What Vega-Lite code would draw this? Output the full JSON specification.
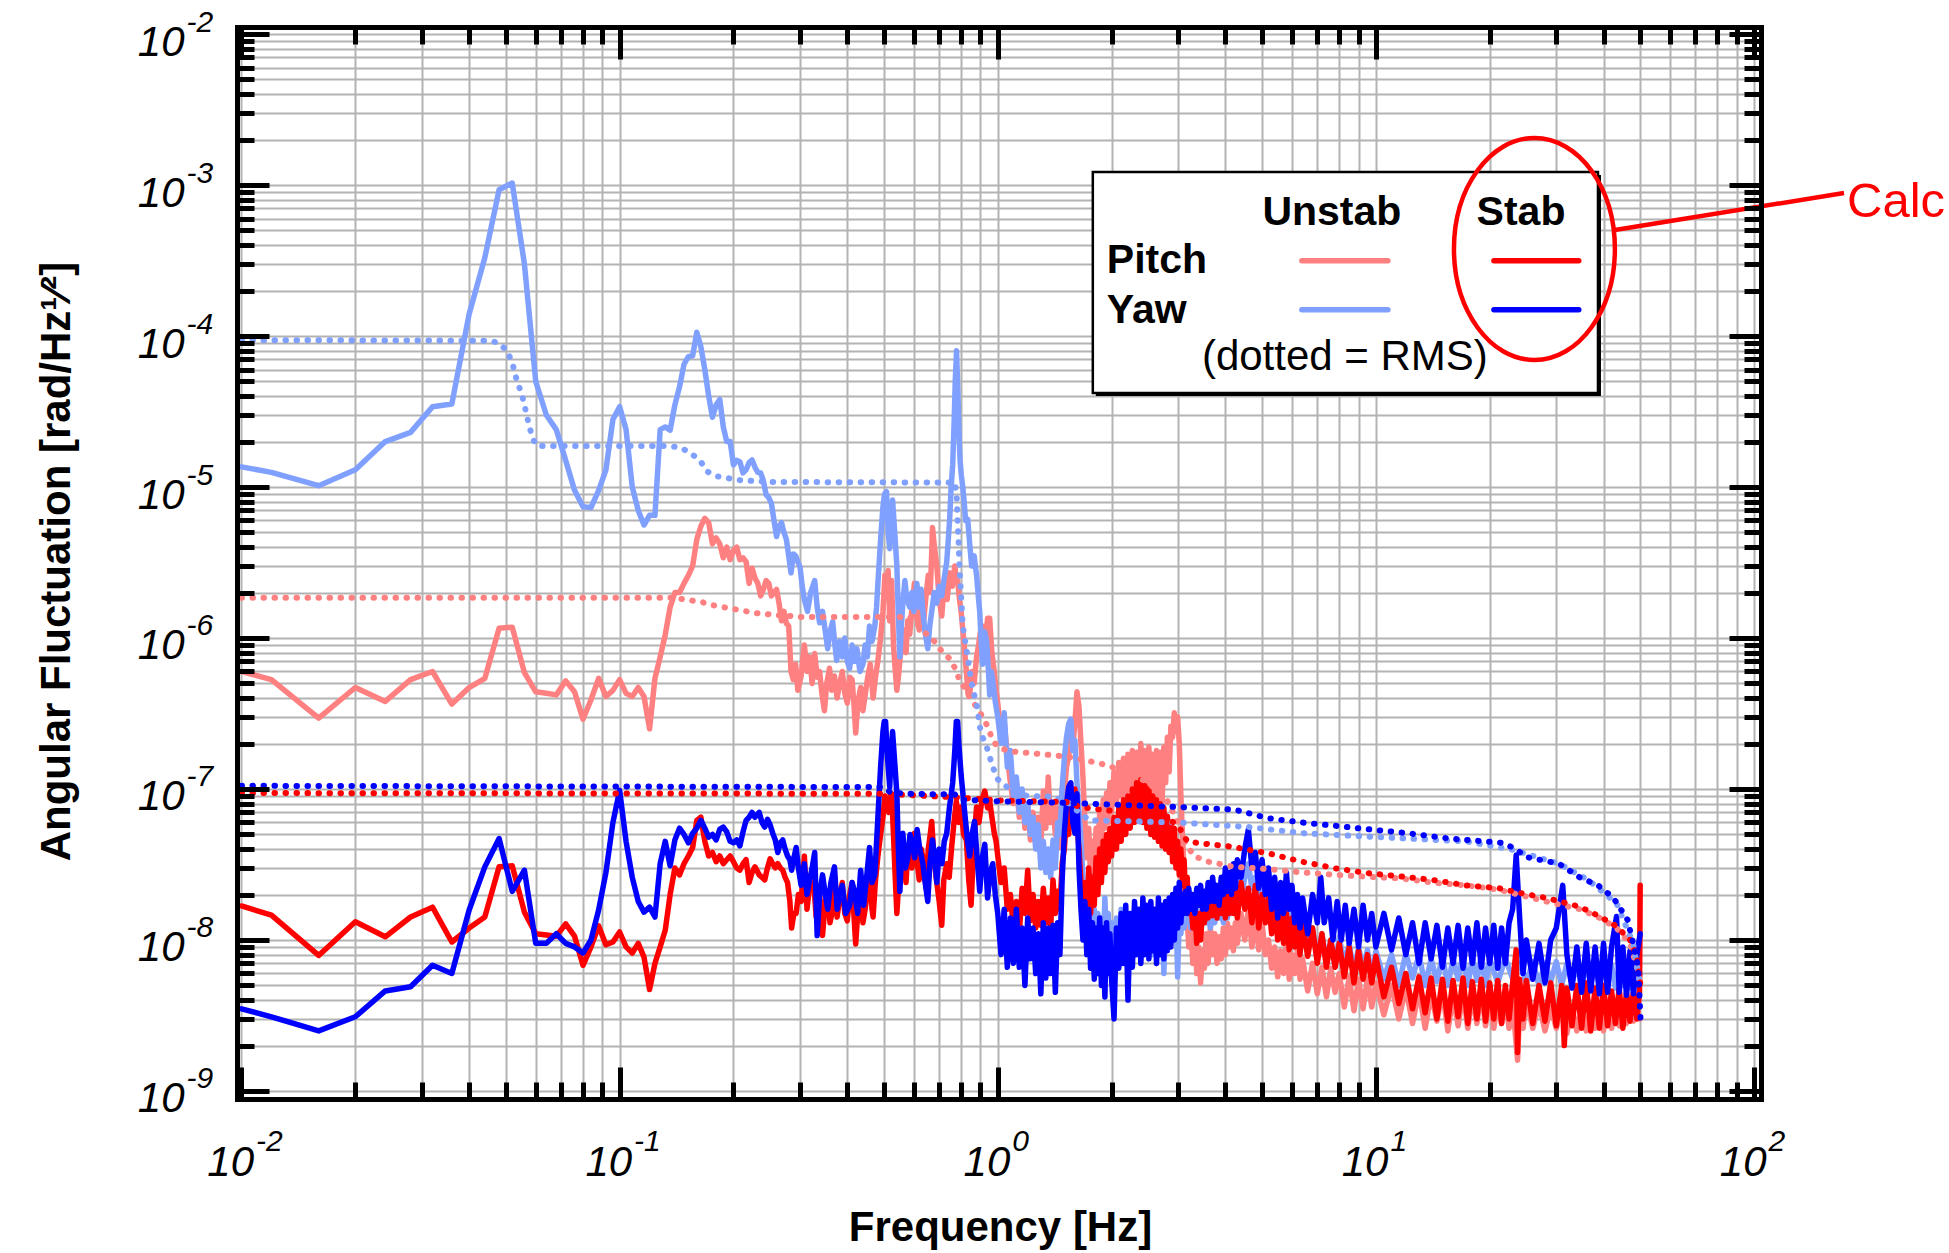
{
"$schema":"https://vega.github.io/schema/vega-lite/v6.json",
"width":1524,"height":1072,
"autosize":{"type":"none"},
"padding":{"left":237,"top":27,"right":188,"bottom":154},
"background":"white",
"config":{"view":{"stroke":null},
"axis":{"labelFont":"Liberation Sans","titleFont":"Liberation Sans","labelColor":"black","titleColor":"black","labelFlush":false,"labelOverlap":false,"labelBound":false,"gridColor":"#b3b3b3","gridWidth":2,"gridOpacity":1,"tickColor":"black","tickWidth":5,"tickCap":"butt","domainColor":"black","domainWidth":5,"domainCap":"square"}},
"datasets":{
"pu":[{"f":0.01,"v":6e-7},{"f":0.012,"v":5.3e-7},{"f":0.016,"v":2.95e-7},{"f":0.02,"v":4.7e-7},{"f":0.024,"v":3.8e-7},{"f":0.028,"v":5.3e-7},{"f":0.032,"v":6e-7},{"f":0.036,"v":3.65e-7},{"f":0.04,"v":4.7e-7},{"f":0.044,"v":5.4e-7},{"f":0.048,"v":1.16e-6},{"f":0.052,"v":1.18e-6},{"f":0.056,"v":5.9e-7},{"f":0.06,"v":4.4e-7},{"f":0.064,"v":4.3e-7},{"f":0.068,"v":4.2e-7},{"f":0.072,"v":5.2e-7},{"f":0.076,"v":4.4e-7},{"f":0.08,"v":2.9e-7},{"f":0.084,"v":3.9e-7},{"f":0.088,"v":5.4e-7},{"f":0.092,"v":4.1e-7},{"f":0.096,"v":4.5e-7},{"f":0.1,"v":5.3e-7},{"f":0.104,"v":4.3e-7},{"f":0.108,"v":4.1e-7},{"f":0.112,"v":4.7e-7},{"f":0.116,"v":4.1e-7},{"f":0.12,"v":2.5e-7},{"f":0.124,"v":5.4e-7},{"f":0.128,"v":7.5e-7},{"f":0.132,"v":1.05e-6},{"f":0.136,"v":1.6e-6},{"f":0.14,"v":2e-6},{"f":0.144,"v":2e-6},{"f":0.148,"v":2.3e-6},{"f":0.152,"v":2.6e-6},{"f":0.156,"v":3e-6},{"f":0.16,"v":4.5e-6},{"f":0.164,"v":5.5e-6},{"f":0.168,"v":6.2e-6},{"f":0.172,"v":5.8e-6},{"f":0.176,"v":4.2e-6},{"f":0.18,"v":4.6e-6},{"f":0.184,"v":4.2e-6},{"f":0.188,"v":3.4e-6},{"f":0.192,"v":4e-6},{"f":0.196,"v":3.3e-6},{"f":0.2,"v":3.8e-6},{"f":0.204,"v":4e-6},{"f":0.208,"v":3.3e-6},{"f":0.212,"v":3.4e-6},{"f":0.216,"v":3.2e-6},{"f":0.22,"v":2.3e-6},{"f":0.224,"v":2.9e-6},{"f":0.228,"v":2.5e-6},{"f":0.232,"v":2.3e-6},{"f":0.236,"v":1.9e-6},{"f":0.24,"v":2.1e-6},{"f":0.244,"v":2.4e-6},{"f":0.248,"v":2.3e-6},{"f":0.252,"v":1.9e-6},{"f":0.256,"v":2e-6},{"f":0.26,"v":2.1e-6},{"f":0.264,"v":1.7e-6},{"f":0.268,"v":1.3e-6},{"f":0.272,"v":1.5e-6},{"f":0.276,"v":1.25e-6},{"f":0.28,"v":1.2e-6},{"f":0.284,"v":6e-7},{"f":0.288,"v":5.3e-7},{"f":0.292,"v":6.7e-7},{"f":0.296,"v":4.5e-7},
{"f":0.302,"v":5.6e-7},{"f":0.308,"v":9e-7},{"f":0.313,"v":6e-7},{"f":0.318,"v":7.5e-7},{"f":0.323,"v":5e-7},{"f":0.328,"v":7.9e-7},{"f":0.333,"v":5.5e-7},{"f":0.338,"v":6e-7},{"f":0.343,"v":4.2e-7},{"f":0.348,"v":3.3e-7},{"f":0.353,"v":5e-7},{"f":0.359,"v":6.3e-7},{"f":0.364,"v":4.5e-7},{"f":0.37,"v":5.6e-7},{"f":0.376,"v":4e-7},{"f":0.382,"v":5e-7},{"f":0.388,"v":6e-7},{"f":0.394,"v":4.3e-7},{"f":0.4,"v":3.7e-7},{"f":0.406,"v":5.5e-7},{"f":0.412,"v":5.3e-7},{"f":0.417,"v":3.5e-7},{"f":0.421,"v":2.35e-7},{"f":0.427,"v":3.8e-7},{"f":0.434,"v":4.7e-7},{"f":0.44,"v":3.3e-7},{"f":0.446,"v":4.2e-7},{"f":0.453,"v":5.5e-7},{"f":0.46,"v":6.7e-7},{"f":0.468,"v":4e-7},{"f":0.475,"v":5.5e-7},{"f":0.482,"v":7.1e-7},{"f":0.49,"v":1e-6},{"f":0.497,"v":1.5e-6},{"f":0.503,"v":2.6e-6},{"f":0.508,"v":1.9e-6},{"f":0.513,"v":2.8e-6},{"f":0.518,"v":1.3e-6},{"f":0.524,"v":2.4e-6},{"f":0.53,"v":9e-7},{"f":0.536,"v":6e-7},{"f":0.541,"v":4.5e-7},{"f":0.546,"v":5.5e-7},{"f":0.551,"v":7.1e-7},{"f":0.558,"v":9.5e-7},{"f":0.565,"v":1.13e-6},{"f":0.572,"v":8e-7},{"f":0.578,"v":1.3e-6},{"f":0.585,"v":1.06e-6},{"f":0.592,"v":1.5e-6},{"f":0.602,"v":2.3e-6},{"f":0.61,"v":1.4e-6},{"f":0.62,"v":1.13e-6},{"f":0.628,"v":1.7e-6},{"f":0.637,"v":1.3e-6},{"f":0.646,"v":1.9e-6},{"f":0.655,"v":2.6e-6},{"f":0.663,"v":2e-6},{"f":0.669,"v":3.7e-6},{"f":0.672,"v":5.4e-6},{"f":0.68,"v":4e-6},{"f":0.69,"v":3e-6},{"f":0.7,"v":1.8e-6},{"f":0.711,"v":1.4e-6},{"f":0.718,"v":1.9e-6},{"f":0.725,"v":2.4e-6},{"f":0.735,"v":1.8e-6},{"f":0.746,"v":2.7e-6},{"f":0.758,"v":2.2e-6},{"f":0.77,"v":3e-6},{"f":0.777,"v":2.4e-6},{"f":0.783,"v":2.4e-6},{"f":0.792,"v":1.8e-6},{"f":0.8,"v":1.5e-6},{"f":0.815,"v":9e-7},{"f":0.826,"v":6e-7},{"f":0.835,"v":4.2e-7},{"f":0.843,"v":4.2e-7},{"f":0.853,"v":6e-7},{"f":0.866,"v":5e-7},{"f":0.879,"v":7.5e-7},{"f":0.89,"v":9e-7},{"f":0.9,"v":1.1e-6},{"f":0.912,"v":1.2e-6},{"f":0.925,"v":9e-7},{"f":0.94,"v":1.35e-6},{"f":0.952,"v":1.35e-6},{"f":0.965,"v":8e-7},{"f":0.979,"v":6e-7},{"f":0.99,"v":4.5e-7},
{"f":1.0,"v":3.7e-7},{"f":1.02,"v":2.4e-7},{"f":1.04,"v":2.8e-7},{"f":1.06,"v":1.65e-7},{"f":1.08,"v":1.1e-7},{"f":1.1,"v":8e-8},{"f":1.12,"v":1.1e-7},{"f":1.14,"v":6.5e-8},{"f":1.16,"v":9.5e-8},{"f":1.18,"v":5.5e-8},{"f":1.2,"v":8e-8},{"f":1.22,"v":4.6e-8},{"f":1.24,"v":7e-8},{"f":1.26,"v":4.4e-8},{"f":1.28,"v":6.5e-8},{"f":1.3,"v":4.3e-8},{"f":1.32,"v":9.7e-8},{"f":1.34,"v":5.5e-8},{"f":1.36,"v":1.2e-7},{"f":1.38,"v":6e-8},{"f":1.4,"v":8e-8},{"f":1.42,"v":5e-8},{"f":1.44,"v":7.5e-8},{"f":1.46,"v":4.1e-8},{"f":1.48,"v":1e-7},{"f":1.5,"v":9.3e-8},{"f":1.52,"v":1.4e-7},{"f":1.54,"v":1.65e-7},{"f":1.56,"v":2.2e-7},{"f":1.58,"v":1.9e-7},{"f":1.6,"v":2.8e-7},{"f":1.62,"v":4.4e-7},{"f":1.64,"v":3.5e-7},{"f":1.66,"v":2e-7},{"f":1.68,"v":1.2e-7},{"f":1.7,"v":6e-8},{"f":1.72,"v":3.5e-8},{"f":1.74,"v":5.5e-8},{"f":1.76,"v":2.6e-8},{"f":1.78,"v":4.5e-8},{"f":1.8,"v":3e-8},{"f":1.82,"v":5.5e-8},{"f":1.84,"v":4e-8},{"f":1.86,"v":7e-8},{"f":1.88,"v":4.5e-8},{"f":1.9,"v":8.5e-8},{"f":1.92,"v":5.5e-8},{"f":1.94,"v":9.4e-8},{"f":1.96,"v":6e-8},{"f":1.98,"v":1.1e-7},{"f":2.0,"v":7e-8},{"f":2.03,"v":1.3e-7},{"f":2.06,"v":8e-8},{"f":2.09,"v":1.5e-7},{"f":2.12,"v":9e-8},{"f":2.15,"v":1.6e-7},{"f":2.18,"v":8.5e-8},{"f":2.21,"v":1.7e-7},{"f":2.24,"v":1e-7},{"f":2.27,"v":1.8e-7},{"f":2.3,"v":9.5e-8},{"f":2.33,"v":1.75e-7},{"f":2.36,"v":1.05e-7},{"f":2.39,"v":2e-7},{"f":2.42,"v":1.1e-7},{"f":2.45,"v":1.8e-7},{"f":2.48,"v":1e-7},{"f":2.51,"v":1.9e-7},{"f":2.54,"v":9e-8},{"f":2.57,"v":1.7e-7},{"f":2.6,"v":8.5e-8},{"f":2.63,"v":1.8e-7},{"f":2.66,"v":9e-8},{"f":2.69,"v":1.75e-7},{"f":2.72,"v":8e-8},{"f":2.75,"v":1.9e-7},{"f":2.78,"v":1.1e-7},{"f":2.81,"v":2.2e-7},{"f":2.84,"v":1.3e-7},{"f":2.87,"v":2.6e-7},{"f":2.9,"v":2.2e-7},{"f":2.93,"v":3.2e-7},{"f":2.96,"v":2.4e-7},{"f":2.99,"v":3e-7},{"f":3.02,"v":2e-7},{"f":3.05,"v":9e-8},{"f":3.08,"v":5e-8},{"f":3.11,"v":2.8e-8},{"f":3.14,"v":1.8e-8},{"f":3.17,"v":1.4e-8},{"f":3.2,"v":9e-9},{"f":3.24,"v":1.2e-8},{"f":3.28,"v":7e-9},{"f":3.32,"v":1.1e-8},{"f":3.36,"v":6e-9},{"f":3.4,"v":9e-9},{"f":3.44,"v":5.2e-9},{"f":3.48,"v":8.5e-9},{"f":3.52,"v":6.5e-9},{"f":3.56,"v":1.1e-8},{"f":3.6,"v":7e-9},{"f":3.65,"v":1.2e-8},{"f":3.7,"v":8e-9},{"f":3.75,"v":1.1e-8},{"f":3.8,"v":7e-9},{"f":3.85,"v":1.05e-8},{"f":3.9,"v":7.5e-9},{"f":3.95,"v":1.2e-8},{"f":4.0,"v":8e-9},{"f":4.05,"v":1.29e-8},{"f":4.1,"v":9e-9},{"f":4.15,"v":1.2e-8},{"f":4.2,"v":8.5e-9},{"f":4.25,"v":1.3e-8},{"f":4.3,"v":9.5e-9},{"f":4.4,"v":1.5e-8},{"f":4.5,"v":1e-8},{"f":4.6,"v":1.6e-8},{"f":4.7,"v":9e-9},{"f":4.8,"v":1.4e-8},{"f":4.9,"v":8.6e-9},{"f":5.0,"v":1.3e-8},{"f":5.1,"v":8e-9},{"f":5.2,"v":1e-8},{"f":5.3,"v":6.5e-9},{"f":5.4,"v":9e-9},{"f":5.5,"v":5.7e-9},{"f":5.6,"v":8.5e-9},{"f":5.7,"v":6e-9},{"f":5.8,"v":9.5e-9},{"f":5.9,"v":5.5e-9},{"f":6.0,"v":8e-9},{"f":6.1,"v":6e-9},{"f":6.2,"v":8.5e-9},{"f":6.3,"v":5.5e-9},{"f":6.4,"v":7.5e-9},{"f":6.6,"v":4.6e-9},{"f":6.8,"v":7e-9},{"f":7.0,"v":4.4e-9},{"f":7.2,"v":6.6e-9},{"f":7.4,"v":4.2e-9},{"f":7.6,"v":6.5e-9},{"f":7.8,"v":4.5e-9},{"f":8.0,"v":6e-9},{"f":8.25,"v":3.6e-9},{"f":8.5,"v":5.7e-9},{"f":8.75,"v":3.4e-9},{"f":9.0,"v":5.5e-9},{"f":9.25,"v":3.5e-9},{"f":9.5,"v":5.6e-9},{"f":9.75,"v":3.6e-9},{"f":10,"v":5.2e-9},{"f":10.5,"v":3.2e-9},{"f":11,"v":5e-9},{"f":11.5,"v":3e-9},{"f":12,"v":4.8e-9},{"f":12.5,"v":2.8e-9},{"f":13,"v":4.6e-9},{"f":13.5,"v":2.6e-9},{"f":14,"v":4.4e-9},{"f":14.5,"v":2.9e-9},{"f":15,"v":4.6e-9},{"f":15.5,"v":2.5e-9},{"f":16,"v":4.2e-9},{"f":16.5,"v":2.7e-9},{"f":17,"v":4.5e-9},{"f":17.5,"v":2.6e-9},{"f":18,"v":4.3e-9},{"f":18.5,"v":2.8e-9},{"f":19,"v":4.6e-9},{"f":19.5,"v":2.7e-9},{"f":20,"v":4.4e-9},{"f":20.5,"v":2.6e-9},{"f":21,"v":4e-9},{"f":21.5,"v":2.8e-9},{"f":22,"v":4.2e-9},{"f":22.5,"v":2.6e-9},{"f":23,"v":3.8e-9},{"f":23.7,"v":1.6e-9},{"f":24,"v":3.6e-9},{"f":24.5,"v":2.6e-9},{"f":25,"v":4e-9},{"f":26,"v":2.6e-9},{"f":27,"v":3.8e-9},{"f":28,"v":2.5e-9},{"f":29,"v":3.6e-9},{"f":30,"v":2.6e-9},{"f":31,"v":3.8e-9},{"f":32,"v":2.4e-9},{"f":33,"v":3.6e-9},{"f":34,"v":2.5e-9},{"f":35,"v":3.5e-9},{"f":36,"v":2.5e-9},{"f":37,"v":3.6e-9},{"f":38,"v":2.6e-9},{"f":39,"v":3.5e-9},{"f":40,"v":2.5e-9},{"f":41,"v":3.6e-9},{"f":42,"v":2.6e-9},{"f":43,"v":3.4e-9},{"f":44,"v":2.7e-9},{"f":45,"v":3.5e-9},{"f":46,"v":2.8e-9},{"f":47,"v":3.6e-9},{"f":48,"v":2.9e-9},{"f":49,"v":3.5e-9},{"f":50,"v":3e-9}],
"yu":[{"f":0.01,"v":1.36e-5},{"f":0.012,"v":1.25e-5},{"f":0.016,"v":1.02e-5},{"f":0.02,"v":1.3e-5},{"f":0.024,"v":2e-5},{"f":0.028,"v":2.3e-5},{"f":0.032,"v":3.4e-5},{"f":0.036,"v":3.55e-5},{"f":0.04,"v":1.4e-4},{"f":0.044,"v":3.3e-4},{"f":0.048,"v":9.3e-4},{"f":0.052,"v":1.03e-3},{"f":0.056,"v":3e-4},{"f":0.06,"v":5e-5},{"f":0.064,"v":3e-5},{"f":0.068,"v":2.4e-5},{"f":0.072,"v":1.5e-5},{"f":0.076,"v":9.5e-6},{"f":0.08,"v":7.4e-6},{"f":0.084,"v":7.3e-6},{"f":0.088,"v":9.5e-6},{"f":0.092,"v":1.3e-5},{"f":0.096,"v":2.8e-5},{"f":0.1,"v":3.4e-5},{"f":0.104,"v":2.4e-5},{"f":0.108,"v":1e-5},{"f":0.112,"v":7e-6},{"f":0.116,"v":5.6e-6},{"f":0.12,"v":6.5e-6},{"f":0.124,"v":6.5e-6},{"f":0.128,"v":2.4e-5},{"f":0.132,"v":2.5e-5},{"f":0.136,"v":2.38e-5},{"f":0.14,"v":3.5e-5},{"f":0.144,"v":4.6e-5},{"f":0.148,"v":6.5e-5},{"f":0.152,"v":7.3e-5},{"f":0.156,"v":7.4e-5},{"f":0.16,"v":1.06e-4},{"f":0.164,"v":8.5e-5},{"f":0.168,"v":6e-5},{"f":0.172,"v":4e-5},{"f":0.176,"v":2.9e-5},{"f":0.18,"v":3.5e-5},{"f":0.184,"v":3.8e-5},{"f":0.188,"v":2.5e-5},{"f":0.192,"v":2e-5},{"f":0.196,"v":2e-5},{"f":0.2,"v":1.4e-5},{"f":0.204,"v":1.5e-5},{"f":0.208,"v":1.47e-5},{"f":0.212,"v":1.24e-5},{"f":0.216,"v":1.3e-5},{"f":0.22,"v":1.45e-5},{"f":0.224,"v":1.51e-5},{"f":0.228,"v":1.35e-5},{"f":0.232,"v":1.25e-5},{"f":0.236,"v":1.24e-5},{"f":0.24,"v":1.1e-5},{"f":0.244,"v":8.9e-6},{"f":0.248,"v":8.5e-6},{"f":0.252,"v":7.8e-6},{"f":0.256,"v":6e-6},{"f":0.26,"v":4.7e-6},{"f":0.264,"v":5.5e-6},{"f":0.268,"v":5.8e-6},{"f":0.272,"v":5e-6},{"f":0.276,"v":4.5e-6},{"f":0.28,"v":3.5e-6},{"f":0.284,"v":2.7e-6},{"f":0.288,"v":3.6e-6},{"f":0.292,"v":3.5e-6},{"f":0.296,"v":3.2e-6},
{"f":0.3,"v":2.95e-6},{"f":0.304,"v":2.2e-6},{"f":0.308,"v":1.8e-6},{"f":0.314,"v":1.5e-6},{"f":0.32,"v":2e-6},{"f":0.328,"v":2.4e-6},{"f":0.333,"v":1.6e-6},{"f":0.338,"v":1.26e-6},{"f":0.344,"v":1.5e-6},{"f":0.35,"v":1.1e-6},{"f":0.355,"v":8.5e-7},{"f":0.36,"v":1.1e-6},{"f":0.366,"v":1.28e-6},{"f":0.371,"v":9e-7},{"f":0.375,"v":7.1e-7},{"f":0.382,"v":9.5e-7},{"f":0.388,"v":7.5e-7},{"f":0.394,"v":1e-6},{"f":0.4,"v":7e-7},{"f":0.406,"v":6.3e-7},{"f":0.412,"v":9e-7},{"f":0.418,"v":7e-7},{"f":0.424,"v":8.5e-7},{"f":0.432,"v":6e-7},{"f":0.44,"v":6.7e-7},{"f":0.446,"v":9e-7},{"f":0.452,"v":7.5e-7},{"f":0.458,"v":1.2e-6},{"f":0.465,"v":9.5e-7},{"f":0.473,"v":1.2e-6},{"f":0.478,"v":1.6e-6},{"f":0.482,"v":2.3e-6},{"f":0.49,"v":4.5e-6},{"f":0.497,"v":7.4e-6},{"f":0.502,"v":9e-6},{"f":0.508,"v":9.3e-6},{"f":0.513,"v":5e-6},{"f":0.518,"v":3.9e-6},{"f":0.523,"v":7e-6},{"f":0.527,"v":8.2e-6},{"f":0.534,"v":5e-6},{"f":0.541,"v":3e-6},{"f":0.546,"v":1.4e-6},{"f":0.551,"v":7.5e-7},{"f":0.556,"v":1.2e-6},{"f":0.561,"v":1.7e-6},{"f":0.568,"v":2.4e-6},{"f":0.575,"v":1.8e-6},{"f":0.585,"v":1.6e-6},{"f":0.593,"v":2e-6},{"f":0.6,"v":1.5e-6},{"f":0.611,"v":2.3e-6},{"f":0.62,"v":1.6e-6},{"f":0.627,"v":2.1e-6},{"f":0.634,"v":1.5e-6},{"f":0.642,"v":1.1e-6},{"f":0.653,"v":8.5e-7},{"f":0.661,"v":1.2e-6},{"f":0.669,"v":1.5e-6},{"f":0.679,"v":2e-6},{"f":0.69,"v":1.7e-6},{"f":0.7,"v":2.2e-6},{"f":0.711,"v":1.9e-6},{"f":0.722,"v":2.5e-6},{"f":0.733,"v":3.2e-6},{"f":0.74,"v":4.5e-6},{"f":0.746,"v":6.1e-6},{"f":0.753,"v":1e-5},{"f":0.76,"v":1.4e-5},{"f":0.766,"v":2.5e-5},{"f":0.772,"v":5e-5},{"f":0.778,"v":8e-5},{"f":0.784,"v":4.5e-5},{"f":0.79,"v":2.2e-5},{"f":0.795,"v":1.5e-5},{"f":0.801,"v":1.2e-5},{"f":0.808,"v":1e-5},{"f":0.815,"v":8e-6},{"f":0.822,"v":6e-6},{"f":0.833,"v":6.1e-6},{"f":0.843,"v":4.2e-6},{"f":0.853,"v":3e-6},{"f":0.866,"v":3.5e-6},{"f":0.879,"v":2.6e-6},{"f":0.89,"v":1.8e-6},{"f":0.896,"v":1.5e-6},{"f":0.905,"v":9e-7},{"f":0.912,"v":6.7e-7},{"f":0.923,"v":1.1e-6},{"f":0.935,"v":9.5e-7},{"f":0.945,"v":6e-7},{"f":0.952,"v":4.2e-7},{"f":0.962,"v":6e-7},{"f":0.97,"v":5.3e-7},{"f":0.985,"v":3.8e-7},
{"f":1.0,"v":3e-7},{"f":1.02,"v":2e-7},{"f":1.04,"v":3.2e-7},{"f":1.06,"v":1.4e-7},{"f":1.08,"v":1.8e-7},{"f":1.1,"v":9e-8},{"f":1.12,"v":1.2e-7},{"f":1.14,"v":7e-8},{"f":1.16,"v":1e-7},{"f":1.18,"v":6e-8},{"f":1.2,"v":8e-8},{"f":1.22,"v":5e-8},{"f":1.24,"v":6.5e-8},{"f":1.26,"v":4e-8},{"f":1.28,"v":5.8e-8},{"f":1.3,"v":3e-8},{"f":1.32,"v":4.5e-8},{"f":1.34,"v":2.8e-8},{"f":1.36,"v":4e-8},{"f":1.38,"v":2.6e-8},{"f":1.4,"v":4.6e-8},{"f":1.42,"v":3e-8},{"f":1.44,"v":6e-8},{"f":1.46,"v":5e-8},{"f":1.48,"v":1e-7},{"f":1.5,"v":1.6e-7},{"f":1.52,"v":2.2e-7},{"f":1.54,"v":2.7e-7},{"f":1.56,"v":2.9e-7},{"f":1.58,"v":1.8e-7},{"f":1.6,"v":2.1e-7},{"f":1.62,"v":1.1e-7},{"f":1.64,"v":7e-8},{"f":1.66,"v":4.5e-8},{"f":1.68,"v":2.6e-8},{"f":1.7,"v":1.5e-8},{"f":1.72,"v":2.2e-8},{"f":1.74,"v":1.1e-8},{"f":1.76,"v":1.8e-8},{"f":1.78,"v":9e-9},{"f":1.8,"v":1.6e-8},{"f":1.82,"v":8.6e-9},{"f":1.84,"v":1.5e-8},{"f":1.86,"v":7e-9},{"f":1.88,"v":1.4e-8},{"f":1.9,"v":8e-9},{"f":1.92,"v":1.9e-8},{"f":1.94,"v":9e-9},{"f":1.96,"v":1.5e-8},{"f":1.98,"v":7.5e-9},{"f":2.0,"v":1.3e-8},{"f":2.03,"v":6.5e-9},{"f":2.06,"v":1.4e-8},{"f":2.09,"v":8e-9},{"f":2.12,"v":1.6e-8},{"f":2.15,"v":8.5e-9},{"f":2.18,"v":1.5e-8},{"f":2.21,"v":7e-9},{"f":2.24,"v":1.3e-8},{"f":2.27,"v":8e-9},{"f":2.3,"v":1.6e-8},{"f":2.33,"v":9e-9},{"f":2.36,"v":1.5e-8},{"f":2.39,"v":7.5e-9},{"f":2.42,"v":1.4e-8},{"f":2.45,"v":8.5e-9},{"f":2.48,"v":1.6e-8},{"f":2.51,"v":9e-9},{"f":2.54,"v":1.5e-8},{"f":2.57,"v":8e-9},{"f":2.6,"v":1.4e-8},{"f":2.63,"v":9e-9},{"f":2.66,"v":1.6e-8},{"f":2.69,"v":8e-9},{"f":2.72,"v":1.5e-8},{"f":2.75,"v":6e-9},{"f":2.78,"v":1.4e-8},{"f":2.81,"v":9e-9},{"f":2.84,"v":1.7e-8},{"f":2.87,"v":1e-8},{"f":2.9,"v":1.9e-8},{"f":2.93,"v":1.2e-8},{"f":2.96,"v":1.7e-8},{"f":2.99,"v":5.7e-9},{"f":3.02,"v":1.4e-8},{"f":3.05,"v":1.1e-8},{"f":3.08,"v":1.6e-8},{"f":3.11,"v":1.2e-8},{"f":3.14,"v":1.7e-8},{"f":3.17,"v":1.3e-8},{"f":3.2,"v":1.6e-8},{"f":3.24,"v":1.2e-8},{"f":3.28,"v":1.5e-8},{"f":3.32,"v":1.3e-8},{"f":3.36,"v":1.6e-8},{"f":3.4,"v":1.2e-8},{"f":3.44,"v":1.5e-8},{"f":3.48,"v":1.3e-8},{"f":3.52,"v":1.7e-8},{"f":3.56,"v":1.3e-8},{"f":3.6,"v":1.6e-8},{"f":3.65,"v":1.2e-8},{"f":3.7,"v":1.5e-8},{"f":3.75,"v":1.3e-8},{"f":3.8,"v":1.7e-8},{"f":3.85,"v":1.4e-8},{"f":3.9,"v":1.8e-8},{"f":3.95,"v":1.3e-8},{"f":4.0,"v":1.7e-8},{"f":4.05,"v":1.4e-8},{"f":4.1,"v":1.9e-8},{"f":4.15,"v":1.5e-8},{"f":4.2,"v":2e-8},{"f":4.25,"v":1.6e-8},{"f":4.3,"v":2.2e-8},{"f":4.4,"v":1.8e-8},{"f":4.5,"v":2.6e-8},{"f":4.6,"v":3.2e-8},{"f":4.7,"v":2.2e-8},{"f":4.8,"v":2.6e-8},{"f":4.9,"v":1.7e-8},{"f":5.0,"v":2.2e-8},{"f":5.1,"v":1.5e-8},{"f":5.2,"v":2e-8},{"f":5.3,"v":1.2e-8},{"f":5.4,"v":1.7e-8},{"f":5.5,"v":1.1e-8},{"f":5.6,"v":1.8e-8},{"f":5.7,"v":1.2e-8},{"f":5.8,"v":1.6e-8},{"f":5.9,"v":1e-8},{"f":6.0,"v":1.5e-8},{"f":6.1,"v":9.5e-9},{"f":6.2,"v":1.4e-8},{"f":6.3,"v":8.6e-9},{"f":6.4,"v":1.3e-8},{"f":6.6,"v":9e-9},{"f":6.8,"v":1.2e-8},{"f":7.0,"v":7.5e-9},{"f":7.2,"v":1.1e-8},{"f":7.4,"v":7e-9},{"f":7.6,"v":1e-8},{"f":7.8,"v":6.6e-9},{"f":8.0,"v":1.05e-8},{"f":8.25,"v":6.8e-9},{"f":8.5,"v":9.5e-9},{"f":8.75,"v":6e-9},{"f":9.0,"v":9e-9},{"f":9.25,"v":6.5e-9},{"f":9.5,"v":8.6e-9},{"f":9.75,"v":5.6e-9},{"f":10,"v":8.5e-9},{"f":10.5,"v":5.5e-9},{"f":11,"v":8e-9},{"f":11.5,"v":5e-9},{"f":12,"v":8.2e-9},{"f":12.5,"v":5.6e-9},{"f":13,"v":8e-9},{"f":13.5,"v":5e-9},{"f":14,"v":7.5e-9},{"f":14.5,"v":5.3e-9},{"f":15,"v":7.8e-9},{"f":15.5,"v":5e-9},{"f":16,"v":7.5e-9},{"f":16.5,"v":5.5e-9},{"f":17,"v":8e-9},{"f":17.5,"v":5e-9},{"f":18,"v":7.6e-9},{"f":18.5,"v":5.4e-9},{"f":19,"v":7.8e-9},{"f":19.5,"v":5e-9},{"f":20,"v":7.5e-9},{"f":21,"v":5.2e-9},{"f":22,"v":7.6e-9},{"f":23,"v":5.5e-9},{"f":24,"v":7e-9},{"f":25,"v":5.2e-9},{"f":26,"v":7.2e-9},{"f":27,"v":5e-9},{"f":28,"v":7e-9},{"f":29,"v":5.3e-9},{"f":30,"v":7.2e-9},{"f":31,"v":5e-9},{"f":32,"v":7e-9},{"f":33,"v":5.2e-9},{"f":34,"v":6.8e-9},{"f":35,"v":5e-9},{"f":36,"v":7e-9},{"f":37,"v":5.2e-9},{"f":38,"v":6.6e-9},{"f":39,"v":5e-9},{"f":40,"v":7e-9},{"f":41,"v":5.2e-9},{"f":42,"v":6.8e-9},{"f":43,"v":4.8e-9},{"f":44,"v":6.6e-9},{"f":45,"v":5e-9},{"f":46,"v":6.5e-9},{"f":47,"v":4.8e-9},{"f":48,"v":6.4e-9},{"f":49,"v":5e-9},{"f":50,"v":6e-9}],
"ps":[{"f":0.01,"v":1.68e-8},{"f":0.012,"v":1.46e-8},{"f":0.016,"v":7.9e-9},{"f":0.02,"v":1.32e-8},{"f":0.024,"v":1.05e-8},{"f":0.028,"v":1.42e-8},{"f":0.032,"v":1.65e-8},{"f":0.036,"v":9.7e-9},{"f":0.04,"v":1.2e-8},{"f":0.044,"v":1.42e-8},{"f":0.048,"v":3.05e-8},{"f":0.052,"v":3.1e-8},{"f":0.056,"v":1.53e-8},{"f":0.06,"v":1.1e-8},{"f":0.064,"v":1.08e-8},{"f":0.068,"v":1.06e-8},{"f":0.072,"v":1.28e-8},{"f":0.076,"v":1.06e-8},{"f":0.08,"v":6.8e-9},{"f":0.084,"v":9e-9},{"f":0.088,"v":1.24e-8},{"f":0.092,"v":9.3e-9},{"f":0.096,"v":9.7e-9},{"f":0.1,"v":1.13e-8},{"f":0.104,"v":9e-9},{"f":0.108,"v":8.2e-9},{"f":0.112,"v":9.5e-9},{"f":0.116,"v":7.7e-9},{"f":0.12,"v":4.7e-9},{"f":0.124,"v":7e-9},{"f":0.128,"v":9e-9},{"f":0.132,"v":1.16e-8},{"f":0.136,"v":2e-8},{"f":0.14,"v":3e-8},{"f":0.144,"v":2.7e-8},{"f":0.148,"v":3.2e-8},{"f":0.152,"v":3.6e-8},{"f":0.156,"v":4.1e-8},{"f":0.16,"v":6.2e-8},{"f":0.164,"v":6.5e-8},{"f":0.168,"v":4.5e-8},{"f":0.172,"v":3.6e-8},{"f":0.176,"v":3.8e-8},{"f":0.18,"v":3.3e-8},{"f":0.184,"v":3.6e-8},{"f":0.188,"v":3.2e-8},{"f":0.192,"v":3.4e-8},{"f":0.196,"v":3.6e-8},{"f":0.2,"v":3.3e-8},{"f":0.204,"v":3e-8},{"f":0.208,"v":2.9e-8},{"f":0.212,"v":3.2e-8},{"f":0.216,"v":3.4e-8},{"f":0.22,"v":2.4e-8},{"f":0.224,"v":2.8e-8},{"f":0.228,"v":3.05e-8},{"f":0.234,"v":2.7e-8},{"f":0.238,"v":2.6e-8},{"f":0.242,"v":2.5e-8},{"f":0.246,"v":3e-8},{"f":0.25,"v":3.45e-8},{"f":0.254,"v":3.2e-8},{"f":0.258,"v":3e-8},{"f":0.262,"v":3.2e-8},{"f":0.266,"v":3e-8},{"f":0.27,"v":2.9e-8},{"f":0.274,"v":2.6e-8},{"f":0.278,"v":2.4e-8},{"f":0.282,"v":1.8e-8},{"f":0.285,"v":1.2e-8},{"f":0.289,"v":1.5e-8},{"f":0.293,"v":1.5e-8},{"f":0.297,"v":2e-8},
{"f":0.302,"v":1.8e-8},{"f":0.308,"v":3.6e-8},{"f":0.313,"v":1.6e-8},{"f":0.318,"v":2.3e-8},{"f":0.324,"v":3e-8},{"f":0.331,"v":1.42e-8},{"f":0.337,"v":2.2e-8},{"f":0.344,"v":1.07e-8},{"f":0.35,"v":1.8e-8},{"f":0.355,"v":2.1e-8},{"f":0.36,"v":1.3e-8},{"f":0.366,"v":1.6e-8},{"f":0.371,"v":2.6e-8},{"f":0.376,"v":1.42e-8},{"f":0.382,"v":1.9e-8},{"f":0.388,"v":2.4e-8},{"f":0.394,"v":1.5e-8},{"f":0.4,"v":1.34e-8},{"f":0.406,"v":2e-8},{"f":0.412,"v":2.4e-8},{"f":0.417,"v":1.4e-8},{"f":0.421,"v":9.4e-9},{"f":0.427,"v":1.6e-8},{"f":0.434,"v":2e-8},{"f":0.44,"v":1.3e-8},{"f":0.446,"v":1.6e-8},{"f":0.453,"v":2.2e-8},{"f":0.46,"v":2.7e-8},{"f":0.465,"v":1.6e-8},{"f":0.468,"v":1.42e-8},{"f":0.475,"v":2.5e-8},{"f":0.482,"v":3.6e-8},{"f":0.49,"v":5e-8},{"f":0.497,"v":6.5e-8},{"f":0.503,"v":9e-8},{"f":0.508,"v":8.3e-8},{"f":0.515,"v":7e-8},{"f":0.524,"v":9.3e-8},{"f":0.53,"v":5e-8},{"f":0.536,"v":2.5e-8},{"f":0.541,"v":1.5e-8},{"f":0.546,"v":2.2e-8},{"f":0.551,"v":2.5e-8},{"f":0.558,"v":4.5e-8},{"f":0.565,"v":3.6e-8},{"f":0.572,"v":2.4e-8},{"f":0.578,"v":3.8e-8},{"f":0.585,"v":4.3e-8},{"f":0.593,"v":3e-8},{"f":0.602,"v":5.1e-8},{"f":0.61,"v":3.5e-8},{"f":0.62,"v":2.5e-8},{"f":0.628,"v":4e-8},{"f":0.637,"v":3.2e-8},{"f":0.646,"v":2.2e-8},{"f":0.655,"v":4e-8},{"f":0.663,"v":5e-8},{"f":0.669,"v":6.1e-8},{"f":0.678,"v":3.5e-8},{"f":0.69,"v":2.4e-8},{"f":0.7,"v":1.8e-8},{"f":0.711,"v":1.25e-8},{"f":0.72,"v":2.5e-8},{"f":0.733,"v":3.2e-8},{"f":0.744,"v":2.6e-8},{"f":0.755,"v":4.1e-8},{"f":0.766,"v":6e-8},{"f":0.777,"v":8.3e-8},{"f":0.788,"v":6e-8},{"f":0.8,"v":7.6e-8},{"f":0.812,"v":5e-8},{"f":0.826,"v":4.6e-8},{"f":0.838,"v":2.5e-8},{"f":0.85,"v":1.7e-8},{"f":0.865,"v":4.5e-8},{"f":0.879,"v":7.6e-8},{"f":0.892,"v":6e-8},{"f":0.906,"v":8.1e-8},{"f":0.915,"v":9e-8},{"f":0.924,"v":9.7e-8},{"f":0.94,"v":7.5e-8},{"f":0.952,"v":8.3e-8},{"f":0.965,"v":6.5e-8},{"f":0.979,"v":5.1e-8},{"f":0.99,"v":4.5e-8},
{"f":1.0,"v":3.6e-8},{"f":1.02,"v":2.4e-8},{"f":1.04,"v":3e-8},{"f":1.06,"v":1.6e-8},{"f":1.08,"v":2e-8},{"f":1.1,"v":1.2e-8},{"f":1.12,"v":1.8e-8},{"f":1.14,"v":1.1e-8},{"f":1.16,"v":2.2e-8},{"f":1.18,"v":1.5e-8},{"f":1.2,"v":2.9e-8},{"f":1.22,"v":1.34e-8},{"f":1.24,"v":2e-8},{"f":1.26,"v":1.2e-8},{"f":1.28,"v":1.8e-8},{"f":1.3,"v":1.25e-8},{"f":1.32,"v":2.2e-8},{"f":1.34,"v":1.3e-8},{"f":1.36,"v":1.9e-8},{"f":1.38,"v":1.2e-8},{"f":1.4,"v":2.5e-8},{"f":1.42,"v":1.5e-8},{"f":1.44,"v":2.1e-8},{"f":1.46,"v":1.6e-8},{"f":1.48,"v":3.2e-8},{"f":1.5,"v":4e-8},{"f":1.52,"v":6.5e-8},{"f":1.54,"v":5e-8},{"f":1.56,"v":9.3e-8},{"f":1.58,"v":7e-8},{"f":1.6,"v":1e-7},{"f":1.62,"v":6e-8},{"f":1.64,"v":4e-8},{"f":1.66,"v":2.4e-8},{"f":1.68,"v":1.5e-8},{"f":1.7,"v":2.4e-8},{"f":1.72,"v":1.2e-8},{"f":1.74,"v":3e-8},{"f":1.76,"v":1.5e-8},{"f":1.78,"v":2.6e-8},{"f":1.8,"v":1.7e-8},{"f":1.82,"v":3.5e-8},{"f":1.84,"v":2e-8},{"f":1.86,"v":4e-8},{"f":1.88,"v":2.4e-8},{"f":1.9,"v":4.5e-8},{"f":1.92,"v":2.8e-8},{"f":1.94,"v":5e-8},{"f":1.96,"v":3.3e-8},{"f":1.98,"v":5.5e-8},{"f":2.0,"v":3.6e-8},{"f":2.03,"v":6.5e-8},{"f":2.06,"v":4e-8},{"f":2.09,"v":7.5e-8},{"f":2.12,"v":4.5e-8},{"f":2.15,"v":8.5e-8},{"f":2.18,"v":5e-8},{"f":2.21,"v":9e-8},{"f":2.24,"v":5.5e-8},{"f":2.27,"v":1e-7},{"f":2.3,"v":6e-8},{"f":2.33,"v":1.1e-7},{"f":2.36,"v":6.5e-8},{"f":2.39,"v":1.15e-7},{"f":2.42,"v":6e-8},{"f":2.45,"v":1.05e-7},{"f":2.48,"v":5.5e-8},{"f":2.51,"v":1e-7},{"f":2.54,"v":5e-8},{"f":2.57,"v":9e-8},{"f":2.6,"v":4.8e-8},{"f":2.63,"v":8.5e-8},{"f":2.66,"v":4.5e-8},{"f":2.69,"v":8e-8},{"f":2.72,"v":4.2e-8},{"f":2.75,"v":7.5e-8},{"f":2.78,"v":4e-8},{"f":2.81,"v":6.6e-8},{"f":2.84,"v":3.8e-8},{"f":2.87,"v":6e-8},{"f":2.9,"v":3.3e-8},{"f":2.93,"v":5.5e-8},{"f":2.96,"v":3e-8},{"f":2.99,"v":4.5e-8},{"f":3.02,"v":2.7e-8},{"f":3.05,"v":4e-8},{"f":3.08,"v":2.3e-8},{"f":3.11,"v":3.4e-8},{"f":3.14,"v":1.9e-8},{"f":3.17,"v":2.6e-8},{"f":3.2,"v":1.5e-8},{"f":3.24,"v":1.9e-8},{"f":3.28,"v":1.2e-8},{"f":3.32,"v":1.6e-8},{"f":3.36,"v":9.5e-9},{"f":3.4,"v":1.5e-8},{"f":3.44,"v":1e-8},{"f":3.48,"v":1.6e-8},{"f":3.52,"v":1.3e-8},{"f":3.56,"v":2e-8},{"f":3.6,"v":1.4e-8},{"f":3.65,"v":2.1e-8},{"f":3.7,"v":1.45e-8},{"f":3.75,"v":2e-8},{"f":3.8,"v":1.4e-8},{"f":3.85,"v":2.1e-8},{"f":3.9,"v":1.5e-8},{"f":3.95,"v":2e-8},{"f":4.0,"v":1.4e-8},{"f":4.05,"v":2.2e-8},{"f":4.1,"v":1.5e-8},{"f":4.15,"v":2.4e-8},{"f":4.2,"v":1.5e-8},{"f":4.25,"v":2.3e-8},{"f":4.3,"v":1.4e-8},{"f":4.4,"v":2.4e-8},{"f":4.5,"v":1.6e-8},{"f":4.6,"v":2.2e-8},{"f":4.7,"v":1.3e-8},{"f":4.8,"v":2.3e-8},{"f":4.9,"v":1.2e-8},{"f":5.0,"v":2e-8},{"f":5.1,"v":1.3e-8},{"f":5.2,"v":1.9e-8},{"f":5.3,"v":1.1e-8},{"f":5.4,"v":1.75e-8},{"f":5.5,"v":1e-8},{"f":5.6,"v":1.6e-8},{"f":5.7,"v":9.5e-9},{"f":5.8,"v":1.5e-8},{"f":5.9,"v":8.6e-9},{"f":6.0,"v":1.4e-8},{"f":6.1,"v":9e-9},{"f":6.2,"v":1.3e-8},{"f":6.3,"v":8e-9},{"f":6.4,"v":1.29e-8},{"f":6.6,"v":7.8e-9},{"f":6.8,"v":1.2e-8},{"f":7.0,"v":7e-9},{"f":7.2,"v":1.1e-8},{"f":7.4,"v":6.6e-9},{"f":7.6,"v":1e-8},{"f":7.8,"v":6.6e-9},{"f":8.0,"v":9.5e-9},{"f":8.25,"v":5.7e-9},{"f":8.5,"v":9e-9},{"f":8.75,"v":5.2e-9},{"f":9.0,"v":8.5e-9},{"f":9.25,"v":5.5e-9},{"f":9.5,"v":8e-9},{"f":9.75,"v":5.2e-9},{"f":10,"v":7.8e-9},{"f":10.5,"v":4.2e-9},{"f":11,"v":6.6e-9},{"f":11.5,"v":3.8e-9},{"f":12,"v":6e-9},{"f":12.5,"v":3.5e-9},{"f":13,"v":5.7e-9},{"f":13.5,"v":3.3e-9},{"f":14,"v":5.6e-9},{"f":14.5,"v":3e-9},{"f":15,"v":5.5e-9},{"f":15.5,"v":2.9e-9},{"f":16,"v":5.4e-9},{"f":16.5,"v":3.1e-9},{"f":17,"v":5.6e-9},{"f":17.5,"v":2.8e-9},{"f":18,"v":5.3e-9},{"f":18.5,"v":3e-9},{"f":19,"v":5.5e-9},{"f":19.5,"v":2.9e-9},{"f":20,"v":5.2e-9},{"f":20.5,"v":3e-9},{"f":21,"v":5.4e-9},{"f":21.5,"v":2.8e-9},{"f":22,"v":5e-9},{"f":22.5,"v":3e-9},{"f":23,"v":5.2e-9},{"f":23.5,"v":8.6e-9},{"f":23.7,"v":1.8e-9},{"f":24,"v":5.5e-9},{"f":24.5,"v":3e-9},{"f":25,"v":5.4e-9},{"f":26,"v":2.8e-9},{"f":27,"v":5e-9},{"f":28,"v":2.9e-9},{"f":29,"v":5.2e-9},{"f":30,"v":2.7e-9},{"f":31,"v":5e-9},{"f":31.5,"v":2e-9},{"f":32,"v":4.8e-9},{"f":33,"v":2.7e-9},{"f":34,"v":5e-9},{"f":35,"v":2.6e-9},{"f":36,"v":5.2e-9},{"f":37,"v":2.5e-9},{"f":38,"v":4.8e-9},{"f":39,"v":2.6e-9},{"f":40,"v":5e-9},{"f":41,"v":2.7e-9},{"f":42,"v":4.6e-9},{"f":43,"v":2.8e-9},{"f":44,"v":4.8e-9},{"f":45,"v":2.6e-9},{"f":46,"v":4.5e-9},{"f":47,"v":2.9e-9},{"f":48,"v":4.6e-9},{"f":49,"v":3e-9},{"f":49.8,"v":4.5e-9},{"f":50,"v":2.3e-8}],
"ys":[{"f":0.01,"v":3.5e-9},{"f":0.012,"v":3.1e-9},{"f":0.016,"v":2.5e-9},{"f":0.02,"v":3.1e-9},{"f":0.024,"v":4.6e-9},{"f":0.028,"v":4.9e-9},{"f":0.032,"v":6.8e-9},{"f":0.036,"v":6e-9},{"f":0.04,"v":1.58e-8},{"f":0.044,"v":3.05e-8},{"f":0.048,"v":4.7e-8},{"f":0.052,"v":2.1e-8},{"f":0.056,"v":2.9e-8},{"f":0.06,"v":9.5e-9},{"f":0.064,"v":9.5e-9},{"f":0.068,"v":1.1e-8},{"f":0.072,"v":9.5e-9},{"f":0.076,"v":9e-9},{"f":0.08,"v":8.2e-9},{"f":0.084,"v":1e-8},{"f":0.088,"v":1.58e-8},{"f":0.092,"v":2.8e-8},{"f":0.096,"v":6e-8},{"f":0.1,"v":9.8e-8},{"f":0.104,"v":4.5e-8},{"f":0.108,"v":2.6e-8},{"f":0.112,"v":1.8e-8},{"f":0.116,"v":1.53e-8},{"f":0.12,"v":1.65e-8},{"f":0.124,"v":1.42e-8},{"f":0.128,"v":3.2e-8},{"f":0.132,"v":4.5e-8},{"f":0.136,"v":3.1e-8},{"f":0.14,"v":4.6e-8},{"f":0.144,"v":5.5e-8},{"f":0.148,"v":5e-8},{"f":0.152,"v":4.4e-8},{"f":0.156,"v":5.1e-8},{"f":0.16,"v":5.5e-8},{"f":0.164,"v":6.2e-8},{"f":0.168,"v":5.5e-8},{"f":0.172,"v":4.8e-8},{"f":0.176,"v":5e-8},{"f":0.18,"v":4.6e-8},{"f":0.184,"v":5.4e-8},{"f":0.188,"v":5.6e-8},{"f":0.192,"v":5.2e-8},{"f":0.196,"v":4.5e-8},{"f":0.2,"v":4.4e-8},{"f":0.204,"v":4.6e-8},{"f":0.208,"v":4.2e-8},{"f":0.212,"v":5.2e-8},{"f":0.216,"v":6.2e-8},{"f":0.22,"v":6.5e-8},{"f":0.224,"v":7e-8},{"f":0.228,"v":6.5e-8},{"f":0.234,"v":7e-8},{"f":0.238,"v":6e-8},{"f":0.242,"v":5.6e-8},{"f":0.246,"v":6.3e-8},{"f":0.25,"v":5.8e-8},{"f":0.254,"v":5.1e-8},{"f":0.258,"v":4.6e-8},{"f":0.262,"v":3.8e-8},{"f":0.266,"v":4.4e-8},{"f":0.27,"v":4.6e-8},{"f":0.274,"v":4e-8},{"f":0.278,"v":3.6e-8},{"f":0.282,"v":3.4e-8},{"f":0.285,"v":2.9e-8},{"f":0.289,"v":3.5e-8},{"f":0.293,"v":4.1e-8},{"f":0.297,"v":3e-8},
{"f":0.302,"v":2.3e-8},{"f":0.308,"v":3.2e-8},{"f":0.313,"v":2e-8},{"f":0.318,"v":2.5e-8},{"f":0.323,"v":3e-8},{"f":0.328,"v":3.8e-8},{"f":0.333,"v":1.07e-8},{"f":0.338,"v":2e-8},{"f":0.344,"v":2.7e-8},{"f":0.35,"v":2e-8},{"f":0.355,"v":1.6e-8},{"f":0.362,"v":2.4e-8},{"f":0.37,"v":3.05e-8},{"f":0.376,"v":1.6e-8},{"f":0.382,"v":2e-8},{"f":0.388,"v":2.3e-8},{"f":0.396,"v":1.5e-8},{"f":0.406,"v":1.7e-8},{"f":0.412,"v":2.4e-8},{"f":0.418,"v":2.1e-8},{"f":0.426,"v":1.5e-8},{"f":0.434,"v":2.9e-8},{"f":0.442,"v":1.7e-8},{"f":0.45,"v":2.6e-8},{"f":0.458,"v":4.1e-8},{"f":0.465,"v":2.4e-8},{"f":0.473,"v":2.7e-8},{"f":0.482,"v":6.5e-8},{"f":0.49,"v":1.4e-7},{"f":0.497,"v":2.4e-7},{"f":0.501,"v":2.8e-7},{"f":0.505,"v":2.8e-7},{"f":0.511,"v":1.6e-7},{"f":0.518,"v":1.03e-7},{"f":0.523,"v":1.8e-7},{"f":0.527,"v":2.4e-7},{"f":0.534,"v":1.5e-7},{"f":0.541,"v":9.3e-8},{"f":0.546,"v":4e-8},{"f":0.551,"v":2.1e-8},{"f":0.556,"v":3.5e-8},{"f":0.561,"v":5.1e-8},{"f":0.57,"v":3e-8},{"f":0.578,"v":3.45e-8},{"f":0.586,"v":5e-8},{"f":0.595,"v":4.3e-8},{"f":0.603,"v":3.5e-8},{"f":0.612,"v":5.4e-8},{"f":0.622,"v":4e-8},{"f":0.634,"v":3.2e-8},{"f":0.643,"v":2.4e-8},{"f":0.653,"v":1.8e-8},{"f":0.662,"v":3.3e-8},{"f":0.672,"v":4.6e-8},{"f":0.681,"v":3.5e-8},{"f":0.69,"v":2.4e-8},{"f":0.7,"v":4e-8},{"f":0.712,"v":3.2e-8},{"f":0.722,"v":4.5e-8},{"f":0.733,"v":5.1e-8},{"f":0.745,"v":7.5e-8},{"f":0.76,"v":1.1e-7},{"f":0.77,"v":1.8e-7},{"f":0.777,"v":2.8e-7},{"f":0.783,"v":2.8e-7},{"f":0.79,"v":1.9e-7},{"f":0.8,"v":1.24e-7},{"f":0.81,"v":9e-8},{"f":0.82,"v":6.5e-8},{"f":0.832,"v":4.5e-8},{"f":0.843,"v":3.6e-8},{"f":0.855,"v":5e-8},{"f":0.868,"v":6.1e-8},{"f":0.882,"v":3.5e-8},{"f":0.896,"v":2.1e-8},{"f":0.91,"v":3.5e-8},{"f":0.924,"v":4.3e-8},{"f":0.94,"v":1.9e-8},{"f":0.955,"v":2.8e-8},{"f":0.97,"v":3.2e-8},{"f":0.985,"v":2e-8},
{"f":1.0,"v":1.5e-8},{"f":1.02,"v":8e-9},{"f":1.04,"v":1.6e-8},{"f":1.06,"v":6.6e-9},{"f":1.08,"v":1.4e-8},{"f":1.1,"v":7e-9},{"f":1.12,"v":1.6e-8},{"f":1.14,"v":6.6e-9},{"f":1.16,"v":1.2e-8},{"f":1.18,"v":5e-9},{"f":1.2,"v":1.4e-8},{"f":1.22,"v":7.5e-9},{"f":1.24,"v":1.2e-8},{"f":1.26,"v":6e-9},{"f":1.28,"v":1.1e-8},{"f":1.3,"v":4.4e-9},{"f":1.32,"v":1.3e-8},{"f":1.34,"v":5.6e-9},{"f":1.36,"v":1.2e-8},{"f":1.38,"v":6e-9},{"f":1.4,"v":1.25e-8},{"f":1.42,"v":4.5e-9},{"f":1.44,"v":1.3e-8},{"f":1.46,"v":8e-9},{"f":1.48,"v":2.5e-8},{"f":1.5,"v":5.1e-8},{"f":1.52,"v":8e-8},{"f":1.54,"v":1.03e-7},{"f":1.56,"v":1.1e-7},{"f":1.58,"v":6e-8},{"f":1.6,"v":5.1e-8},{"f":1.62,"v":9.3e-8},{"f":1.64,"v":3e-8},{"f":1.66,"v":1.6e-8},{"f":1.68,"v":1e-8},{"f":1.7,"v":1.8e-8},{"f":1.72,"v":8e-9},{"f":1.74,"v":1.6e-8},{"f":1.76,"v":6.5e-9},{"f":1.78,"v":1.3e-8},{"f":1.8,"v":5.5e-9},{"f":1.82,"v":1.2e-8},{"f":1.84,"v":6e-9},{"f":1.86,"v":1.4e-8},{"f":1.88,"v":5e-9},{"f":1.9,"v":1.2e-8},{"f":1.92,"v":4.2e-9},{"f":1.94,"v":1.3e-8},{"f":1.96,"v":6e-9},{"f":1.98,"v":1.1e-8},{"f":2.0,"v":5.5e-9},{"f":2.03,"v":3e-9},{"f":2.06,"v":1.2e-8},{"f":2.09,"v":6.5e-9},{"f":2.12,"v":1.5e-8},{"f":2.15,"v":7e-9},{"f":2.18,"v":1.7e-8},{"f":2.21,"v":4e-9},{"f":2.24,"v":1.5e-8},{"f":2.27,"v":6.6e-9},{"f":2.3,"v":1.8e-8},{"f":2.33,"v":8e-9},{"f":2.36,"v":1.6e-8},{"f":2.39,"v":7e-9},{"f":2.42,"v":1.9e-8},{"f":2.45,"v":8e-9},{"f":2.48,"v":1.7e-8},{"f":2.51,"v":7.5e-9},{"f":2.54,"v":1.8e-8},{"f":2.57,"v":8.5e-9},{"f":2.6,"v":1.6e-8},{"f":2.63,"v":7e-9},{"f":2.66,"v":1.9e-8},{"f":2.69,"v":8e-9},{"f":2.72,"v":1.7e-8},{"f":2.75,"v":7.5e-9},{"f":2.78,"v":1.8e-8},{"f":2.81,"v":8.5e-9},{"f":2.84,"v":1.9e-8},{"f":2.87,"v":9e-9},{"f":2.9,"v":2e-8},{"f":2.93,"v":1e-8},{"f":2.96,"v":2.2e-8},{"f":2.99,"v":1.2e-8},{"f":3.02,"v":2.4e-8},{"f":3.05,"v":1.3e-8},{"f":3.08,"v":2e-8},{"f":3.11,"v":1.5e-8},{"f":3.14,"v":2.1e-8},{"f":3.17,"v":1.5e-8},{"f":3.2,"v":2.2e-8},{"f":3.24,"v":1.6e-8},{"f":3.28,"v":2e-8},{"f":3.32,"v":1.5e-8},{"f":3.36,"v":2.2e-8},{"f":3.4,"v":1.7e-8},{"f":3.44,"v":2.3e-8},{"f":3.48,"v":1.6e-8},{"f":3.52,"v":2.1e-8},{"f":3.56,"v":1.6e-8},{"f":3.6,"v":2.4e-8},{"f":3.65,"v":1.8e-8},{"f":3.7,"v":2.6e-8},{"f":3.75,"v":1.8e-8},{"f":3.8,"v":2.3e-8},{"f":3.85,"v":1.7e-8},{"f":3.9,"v":2.6e-8},{"f":3.95,"v":2e-8},{"f":4.0,"v":3e-8},{"f":4.05,"v":2.1e-8},{"f":4.1,"v":2.8e-8},{"f":4.15,"v":2e-8},{"f":4.2,"v":3.2e-8},{"f":4.25,"v":2.2e-8},{"f":4.3,"v":3.4e-8},{"f":4.4,"v":2.6e-8},{"f":4.5,"v":4e-8},{"f":4.6,"v":5.4e-8},{"f":4.7,"v":3e-8},{"f":4.8,"v":3.8e-8},{"f":4.9,"v":2.2e-8},{"f":5.0,"v":3.4e-8},{"f":5.1,"v":2e-8},{"f":5.2,"v":3e-8},{"f":5.3,"v":1.6e-8},{"f":5.4,"v":2.6e-8},{"f":5.5,"v":1.4e-8},{"f":5.6,"v":2.4e-8},{"f":5.7,"v":1.5e-8},{"f":5.8,"v":2.8e-8},{"f":5.9,"v":1.6e-8},{"f":6.0,"v":2.3e-8},{"f":6.1,"v":1.3e-8},{"f":6.2,"v":2e-8},{"f":6.3,"v":1.2e-8},{"f":6.4,"v":1.9e-8},{"f":6.6,"v":1.1e-8},{"f":6.8,"v":2e-8},{"f":7.0,"v":1.3e-8},{"f":7.15,"v":2.6e-8},{"f":7.3,"v":1.3e-8},{"f":7.5,"v":1.9e-8},{"f":7.7,"v":1e-8},{"f":7.9,"v":1.8e-8},{"f":8.1,"v":1e-8},{"f":8.3,"v":1.7e-8},{"f":8.5,"v":9.5e-9},{"f":8.75,"v":1.6e-8},{"f":9.0,"v":9e-9},{"f":9.25,"v":1.7e-8},{"f":9.5,"v":1e-8},{"f":9.75,"v":1.5e-8},{"f":10,"v":9e-9},{"f":10.5,"v":1.5e-8},{"f":11,"v":8.6e-9},{"f":11.5,"v":1.4e-8},{"f":12,"v":8e-9},{"f":12.5,"v":1.3e-8},{"f":13,"v":7e-9},{"f":13.5,"v":1.3e-8},{"f":14,"v":7.5e-9},{"f":14.5,"v":1.25e-8},{"f":15,"v":6.6e-9},{"f":15.5,"v":1.2e-8},{"f":16,"v":7e-9},{"f":16.5,"v":1.25e-8},{"f":17,"v":6.5e-9},{"f":17.5,"v":1.2e-8},{"f":18,"v":7e-9},{"f":18.5,"v":1.3e-8},{"f":19,"v":6.6e-9},{"f":19.5,"v":1.2e-8},{"f":20,"v":7e-9},{"f":20.5,"v":1.25e-8},{"f":21,"v":6.5e-9},{"f":21.5,"v":1.2e-8},{"f":22,"v":7e-9},{"f":22.5,"v":1.3e-8},{"f":23,"v":1.6e-8},{"f":23.5,"v":3.65e-8},{"f":24,"v":1.4e-8},{"f":24.5,"v":6e-9},{"f":25,"v":1e-8},{"f":26,"v":5.5e-9},{"f":27,"v":9.5e-9},{"f":28,"v":5.2e-9},{"f":29,"v":1e-8},{"f":30,"v":1.2e-8},{"f":31.2,"v":2.3e-8},{"f":32,"v":8e-9},{"f":33,"v":4.8e-9},{"f":34,"v":9e-9},{"f":35,"v":4.5e-9},{"f":36,"v":9.5e-9},{"f":37,"v":4.6e-9},{"f":38,"v":9e-9},{"f":39,"v":4.4e-9},{"f":40,"v":9.5e-9},{"f":41,"v":4.5e-9},{"f":42,"v":9e-9},{"f":43.3,"v":1.43e-8},{"f":44,"v":4.5e-9},{"f":45,"v":9e-9},{"f":46,"v":4.3e-9},{"f":47,"v":8.5e-9},{"f":48,"v":4.4e-9},{"f":49,"v":8e-9},{"f":50,"v":1.1e-8}],
"pur":[{"f":0.01,"v":1.85e-6},{"f":0.138,"v":1.85e-6},{"f":0.153,"v":1.78e-6},{"f":0.165,"v":1.73e-6},{"f":0.176,"v":1.65e-6},{"f":0.199,"v":1.56e-6},{"f":0.23,"v":1.46e-6},{"f":0.26,"v":1.42e-6},{"f":0.3,"v":1.38e-6},{"f":0.585,"v":1.38e-6},{"f":0.61,"v":1.25e-6},{"f":0.63,"v":1.13e-6},{"f":0.68,"v":9.5e-7},{"f":0.71,"v":8.2e-7},{"f":0.746,"v":7.3e-7},{"f":0.777,"v":6.1e-7},{"f":0.79,"v":5.3e-7},{"f":0.826,"v":4.5e-7},{"f":0.85,"v":3.9e-7},{"f":0.879,"v":3.5e-7},{"f":0.912,"v":3e-7},{"f":0.94,"v":2.6e-7},{"f":0.97,"v":2.1e-7},{"f":1.0,"v":1.9e-7},{"f":1.07,"v":1.78e-7},{"f":1.24,"v":1.72e-7},{"f":1.52,"v":1.64e-7},{"f":1.86,"v":1.48e-7},{"f":2.2,"v":1.3e-7},{"f":2.5,"v":1.1e-7},{"f":2.8,"v":8.5e-8},{"f":2.95,"v":6.5e-8},{"f":3.1,"v":4.6e-8},{"f":3.3,"v":3.6e-8},{"f":3.6,"v":3.3e-8},{"f":4.23,"v":3.05e-8},{"f":5.19,"v":2.95e-8},{"f":6.38,"v":2.8e-8},{"f":7.83,"v":2.7e-8},{"f":9.63,"v":2.62e-8},{"f":11.6,"v":2.56e-8},{"f":14.1,"v":2.4e-8},{"f":17.3,"v":2.3e-8},{"f":21.2,"v":2.15e-8},{"f":28.2,"v":1.8e-8},{"f":34.6,"v":1.6e-8},{"f":39.1,"v":1.4e-8},{"f":43.3,"v":1.2e-8},{"f":47,"v":9.5e-9},{"f":49,"v":6.6e-9},{"f":50,"v":5e-9}],
"yur":[{"f":0.01,"v":9.4e-5},{"f":0.045,"v":9.3e-5},{"f":0.0473,"v":9.1e-5},{"f":0.0502,"v":8.1e-5},{"f":0.052,"v":6.7e-5},{"f":0.0527,"v":5.8e-5},{"f":0.0537,"v":4.9e-5},{"f":0.055,"v":4.2e-5},{"f":0.056,"v":3.5e-5},{"f":0.0577,"v":2.5e-5},{"f":0.059,"v":2.1e-5},{"f":0.06,"v":1.9e-5},{"f":0.062,"v":1.87e-5},{"f":0.134,"v":1.87e-5},{"f":0.144,"v":1.83e-5},{"f":0.153,"v":1.7e-5},{"f":0.163,"v":1.5e-5},{"f":0.171,"v":1.26e-5},{"f":0.18,"v":1.18e-5},{"f":0.195,"v":1.14e-5},{"f":0.208,"v":1.11e-5},{"f":0.25,"v":1.08e-5},{"f":0.77,"v":1.07e-5},{"f":0.779,"v":8.7e-6},{"f":0.783,"v":6.1e-6},{"f":0.788,"v":4.3e-6},{"f":0.792,"v":3e-6},{"f":0.8,"v":1.9e-6},{"f":0.808,"v":1.2e-6},{"f":0.826,"v":8.5e-7},{"f":0.843,"v":6e-7},{"f":0.86,"v":4.5e-7},{"f":0.879,"v":3.7e-7},{"f":0.896,"v":2.6e-7},{"f":0.912,"v":2.2e-7},{"f":0.935,"v":1.9e-7},{"f":0.97,"v":1.4e-7},{"f":1.0,"v":1.16e-7},{"f":1.1,"v":9.5e-8},{"f":1.2,"v":9e-8},{"f":1.4,"v":8.9e-8},{"f":1.55,"v":8e-8},{"f":1.65,"v":6.9e-8},{"f":1.75,"v":6.2e-8},{"f":3.0,"v":6e-8},{"f":4.6,"v":5.6e-8},{"f":6.4,"v":5.1e-8},{"f":10.2,"v":4.8e-8},{"f":17.3,"v":4.5e-8},{"f":23.1,"v":3.95e-8},{"f":30.5,"v":3.2e-8},{"f":36.4,"v":2.5e-8},{"f":43.3,"v":1.75e-8},{"f":47.9,"v":9.5e-9},{"f":49.9,"v":5.2e-9}],
"psr":[{"f":0.01,"v":9.4e-8},{"f":0.5,"v":9.3e-8},{"f":0.78,"v":8.8e-8},{"f":1.0,"v":8.4e-8},{"f":1.52,"v":8.2e-8},{"f":1.65,"v":7.6e-8},{"f":1.78,"v":7.4e-8},{"f":2.8,"v":6.6e-8},{"f":3.04,"v":5.4e-8},{"f":3.17,"v":4.5e-8},{"f":3.36,"v":4.4e-8},{"f":4.15,"v":4.15e-8},{"f":5.19,"v":3.75e-8},{"f":6.38,"v":3.3e-8},{"f":7.83,"v":2.98e-8},{"f":9.63,"v":2.76e-8},{"f":11.8,"v":2.63e-8},{"f":14.1,"v":2.5e-8},{"f":17.3,"v":2.3e-8},{"f":21.2,"v":2.2e-8},{"f":24,"v":2.05e-8},{"f":28.2,"v":1.9e-8},{"f":34.6,"v":1.66e-8},{"f":39.1,"v":1.43e-8},{"f":43.3,"v":1.23e-8},{"f":47,"v":1e-8},{"f":49,"v":7.8e-9},{"f":50,"v":5.2e-9}],
"ysr":[{"f":0.01,"v":1.05e-7},{"f":0.5,"v":1.03e-7},{"f":0.52,"v":9.5e-8},{"f":0.57,"v":9.3e-8},{"f":0.77,"v":9.2e-8},{"f":0.8,"v":8.5e-8},{"f":1.0,"v":8.3e-8},{"f":1.5,"v":8.1e-8},{"f":3.0,"v":7.6e-8},{"f":4.23,"v":7.3e-8},{"f":5.19,"v":6.4e-8},{"f":6.38,"v":6e-8},{"f":7.83,"v":5.7e-8},{"f":9.63,"v":5.4e-8},{"f":12.1,"v":5.1e-8},{"f":15.6,"v":4.7e-8},{"f":21.6,"v":4.4e-8},{"f":23.5,"v":4e-8},{"f":24.8,"v":3.56e-8},{"f":30.5,"v":3.2e-8},{"f":34.6,"v":2.6e-8},{"f":38.7,"v":2.3e-8},{"f":42.5,"v":1.9e-8},{"f":46.3,"v":1.36e-8},{"f":47.9,"v":9.5e-9},{"f":49.4,"v":6.6e-9},{"f":50.1,"v":3e-9}],
"box":[{"f":1.784,"f2":38.67,"v":1.219e-3,"v2":4.195e-5}],
"keys":[{"s":"PU","f":6.37,"f2":10.76,"v":3.15e-4},{"s":"PS","f":20.52,"f2":34.4,"v":3.15e-4},{"s":"YU","f":6.37,"f2":10.76,"v":1.49e-4},{"s":"YS","f":20.52,"f2":34.4,"v":1.49e-4}],
"heads":[{"t":"Unstab","f":7.65,"v":5.43e-4},{"t":"Stab","f":24.2,"v":5.43e-4}],
"rows":[{"t":"Pitch","f":1.943,"v":2.61e-4},{"t":"Yaw","f":1.943,"v":1.22e-4}],
"note":[{"t":"(dotted = RMS)","f":8.28,"v":5.96e-5}],
"ring":[{"f":26.26,"v":3.77e-4}],
"pointer":[{"f":42.88,"v":5.04e-4},{"f":173,"v":8.85e-4}],
"calc":[{"t":"Calc","f":176.2,"v":6.14e-4}]
},
"resolve":{"axis":{"x":"independent","y":"independent"}},
"layer":[
{"data":{"name":"pu"},"mark":{"type":"line","color":"#ff8080","strokeWidth":5.5,"strokeJoin":"round","strokeCap":"round"},
"encoding":{"x":{"field":"f","type":"quantitative","scale":{"type":"log","domain":[0.00973,104.35],"nice":false},"axis":{"orient":"bottom","values":[0.01,0.02,0.03,0.04,0.05,0.06,0.07,0.08,0.09,0.1,0.2,0.3,0.4,0.5,0.6,0.7,0.8,0.9,1,2,3,4,5,6,7,8,9,10,20,30,40,50,60,70,80,90,100],"grid":true,"ticks":false,"labels":false,"domain":false,"title":null,"zindex":0}},
"y":{"field":"v","type":"quantitative","scale":{"type":"log","domain":[8.85e-10,0.011128],"nice":false},"axis":{"orient":"left","values":[1e-9,2e-9,3e-9,4e-9,5e-9,6e-9,7e-9,8e-9,9e-9,1e-8,2e-8,3e-8,4e-8,5e-8,6e-8,7e-8,8e-8,9e-8,1e-7,2e-7,3e-7,4e-7,5e-7,6e-7,7e-7,8e-7,9e-7,1e-6,2e-6,3e-6,4e-6,5e-6,6e-6,7e-6,8e-6,9e-6,1e-5,2e-5,3e-5,4e-5,5e-5,6e-5,7e-5,8e-5,9e-5,1e-4,2e-4,3e-4,4e-4,5e-4,6e-4,7e-4,8e-4,9e-4,1e-3,2e-3,3e-3,4e-3,5e-3,6e-3,7e-3,8e-3,9e-3,1e-2],"grid":true,"ticks":false,"labels":false,"domain":false,"title":null,"zindex":0}}}},
{"data":{"name":"yu"},"mark":{"type":"line","color":"#80a0ff","strokeWidth":5.5,"strokeJoin":"round","strokeCap":"round"},
"encoding":{"x":{"field":"f","type":"quantitative","scale":{"type":"log","domain":[0.00973,104.35],"nice":false},"axis":{"orient":"bottom","values":[0.01,0.1,1,10,100],"grid":false,"ticks":true,"tickSize":-32,"labels":false,"domain":true,"title":null,"zindex":1}},
"y":{"field":"v","type":"quantitative","scale":{"type":"log","domain":[8.85e-10,0.011128],"nice":false},"axis":{"orient":"left","values":[1e-9,1e-8,1e-7,1e-6,1e-5,1e-4,1e-3,1e-2],"grid":false,"ticks":true,"tickSize":-32,"labels":false,"domain":true,"title":null,"zindex":1}}}},
{"data":{"name":"ps"},"mark":{"type":"line","color":"#ff0000","strokeWidth":5.5,"strokeJoin":"round","strokeCap":"round"},
"encoding":{"x":{"field":"f","type":"quantitative","scale":{"type":"log","domain":[0.00973,104.35],"nice":false},"axis":{"orient":"top","values":[0.01,0.1,1,10,100],"grid":false,"ticks":true,"tickSize":-32,"labels":false,"domain":true,"title":null,"zindex":1}},
"y":{"field":"v","type":"quantitative","scale":{"type":"log","domain":[8.85e-10,0.011128],"nice":false},"axis":{"orient":"right","values":[1e-9,1e-8,1e-7,1e-6,1e-5,1e-4,1e-3,1e-2],"grid":false,"ticks":true,"tickSize":-32,"labels":false,"domain":true,"title":null,"zindex":1}}}},
{"data":{"name":"ys"},"mark":{"type":"line","color":"#0000ff","strokeWidth":5.5,"strokeJoin":"round","strokeCap":"round"},
"encoding":{"x":{"field":"f","type":"quantitative","scale":{"type":"log","domain":[0.00973,104.35],"nice":false},"axis":{"orient":"bottom","values":[0.02,0.03,0.04,0.05,0.06,0.07,0.08,0.09,0.2,0.3,0.4,0.5,0.6,0.7,0.8,0.9,2,3,4,5,6,7,8,9,20,30,40,50,60,70,80,90],"grid":false,"ticks":true,"tickSize":-17,"labels":false,"domain":false,"title":null,"zindex":1}},
"y":{"field":"v","type":"quantitative","scale":{"type":"log","domain":[8.85e-10,0.011128],"nice":false},"axis":{"orient":"left","values":[2e-9,3e-9,4e-9,5e-9,6e-9,7e-9,8e-9,9e-9,2e-8,3e-8,4e-8,5e-8,6e-8,7e-8,8e-8,9e-8,2e-7,3e-7,4e-7,5e-7,6e-7,7e-7,8e-7,9e-7,2e-6,3e-6,4e-6,5e-6,6e-6,7e-6,8e-6,9e-6,2e-5,3e-5,4e-5,5e-5,6e-5,7e-5,8e-5,9e-5,2e-4,3e-4,4e-4,5e-4,6e-4,7e-4,8e-4,9e-4,2e-3,3e-3,4e-3,5e-3,6e-3,7e-3,8e-3,9e-3],"grid":false,"ticks":true,"tickSize":-17,"labels":false,"domain":false,"title":null,"zindex":1}}}},
{"data":{"name":"pur"},"mark":{"type":"line","color":"#ff8080","strokeWidth":6,"strokeCap":"round","strokeDash":[0.5,10.5]},
"encoding":{"x":{"field":"f","type":"quantitative","scale":{"type":"log","domain":[0.00973,104.35],"nice":false},"axis":{"orient":"top","values":[0.02,0.03,0.04,0.05,0.06,0.07,0.08,0.09,0.2,0.3,0.4,0.5,0.6,0.7,0.8,0.9,2,3,4,5,6,7,8,9,20,30,40,50,60,70,80,90],"grid":false,"ticks":true,"tickSize":-17,"labels":false,"domain":false,"title":null,"zindex":1}},
"y":{"field":"v","type":"quantitative","scale":{"type":"log","domain":[8.85e-10,0.011128],"nice":false},"axis":{"orient":"right","values":[2e-9,3e-9,4e-9,5e-9,6e-9,7e-9,8e-9,9e-9,2e-8,3e-8,4e-8,5e-8,6e-8,7e-8,8e-8,9e-8,2e-7,3e-7,4e-7,5e-7,6e-7,7e-7,8e-7,9e-7,2e-6,3e-6,4e-6,5e-6,6e-6,7e-6,8e-6,9e-6,2e-5,3e-5,4e-5,5e-5,6e-5,7e-5,8e-5,9e-5,2e-4,3e-4,4e-4,5e-4,6e-4,7e-4,8e-4,9e-4,2e-3,3e-3,4e-3,5e-3,6e-3,7e-3,8e-3,9e-3],"grid":false,"ticks":true,"tickSize":-17,"labels":false,"domain":false,"title":null,"zindex":1}}}},
{"data":{"name":"yur"},"mark":{"type":"line","color":"#80a0ff","strokeWidth":6,"strokeCap":"round","strokeDash":[0.5,10.5]},
"encoding":{"x":{"field":"f","type":"quantitative","scale":{"type":"log","domain":[0.00973,104.35],"nice":false},"axis":{"orient":"bottom","values":[0.01,0.1,1,10,100],"grid":false,"ticks":false,"tickSize":0,"domain":false,"labels":true,"labelExpr":"'10'","labelFontSize":42,"labelFontStyle":"italic","labelAlign":"right","labelBaseline":"alphabetic","labelOffset":12,"labelPadding":76,"title":"Frequency [Hz]","titleFontSize":42,"titleFontWeight":"bold","titleX":763,"titleY":141,"titleAngle":0,"titleAlign":"center","titleBaseline":"alphabetic","zindex":1}},
"y":{"field":"v","type":"quantitative","scale":{"type":"log","domain":[8.85e-10,0.011128],"nice":false},"axis":{"orient":"left","values":[1e-9,1e-8,1e-7,1e-6,1e-5,1e-4,1e-3,1e-2],"grid":false,"ticks":false,"tickSize":0,"domain":false,"labels":true,"labelExpr":"'10'","labelFontSize":42,"labelFontStyle":"italic","labelAlign":"right","labelBaseline":"alphabetic","labelOffset":21,"labelPadding":53,"title":"Angular Fluctuation [rad/Hz¹⁄²]","titleFontSize":42,"titleFontWeight":"bold","titleX":-168,"titleY":534,"titleAngle":270,"titleAlign":"center","titleBaseline":"alphabetic","zindex":1}}}},
{"data":{"name":"psr"},"mark":{"type":"line","color":"#ff0000","strokeWidth":6,"strokeCap":"round","strokeDash":[0.5,10.5]},
"encoding":{"x":{"field":"f","type":"quantitative","scale":{"type":"log","domain":[0.00973,104.35],"nice":false},"axis":{"orient":"bottom","values":[0.01,0.1,1,10,100],"grid":false,"ticks":false,"tickSize":0,"domain":false,"labels":true,"labelExpr":"'' + round(log(datum.value)/LN10)","labelFontSize":30,"labelFontStyle":"italic","labelAlign":"left","labelBaseline":"alphabetic","labelOffset":14,"labelPadding":51,"title":null,"zindex":1}},
"y":{"field":"v","type":"quantitative","scale":{"type":"log","domain":[8.85e-10,0.011128],"nice":false},"axis":{"orient":"left","values":[1e-9,1e-8,1e-7,1e-6,1e-5,1e-4,1e-3,1e-2],"grid":false,"ticks":false,"tickSize":0,"domain":false,"labels":true,"labelExpr":"'' + round(log(datum.value)/LN10)","labelFontSize":30,"labelFontStyle":"italic","labelAlign":"left","labelBaseline":"alphabetic","labelOffset":-3,"labelPadding":51,"title":null,"zindex":1}}}},
{"data":{"name":"ysr"},"mark":{"type":"line","color":"#0000ff","strokeWidth":6,"strokeCap":"round","strokeDash":[0.5,10.5]},
"encoding":{"x":{"field":"f","type":"quantitative","scale":{"type":"log","domain":[0.00973,104.35],"nice":false},"axis":null},
"y":{"field":"v","type":"quantitative","scale":{"type":"log","domain":[8.85e-10,0.011128],"nice":false},"axis":null}}},
{"data":{"name":"box"},"mark":{"type":"rect","fill":"black","xOffset":3,"x2Offset":3,"yOffset":3,"y2Offset":3},
"encoding":{"x":{"field":"f","type":"quantitative","scale":{"type":"log","domain":[0.00973,104.35],"nice":false},"axis":null},"x2":{"field":"f2"},
"y":{"field":"v","type":"quantitative","scale":{"type":"log","domain":[8.85e-10,0.011128],"nice":false},"axis":null},"y2":{"field":"v2"}}},
{"data":{"name":"box"},"mark":{"type":"rect","fill":"white","stroke":"black","strokeWidth":2.5},
"encoding":{"x":{"field":"f","type":"quantitative","scale":{"type":"log","domain":[0.00973,104.35],"nice":false},"axis":null},"x2":{"field":"f2"},
"y":{"field":"v","type":"quantitative","scale":{"type":"log","domain":[8.85e-10,0.011128],"nice":false},"axis":null},"y2":{"field":"v2"}}},
{"data":{"name":"keys"},"mark":{"type":"rule","strokeWidth":5.5,"strokeCap":"round"},
"encoding":{"x":{"field":"f","type":"quantitative","scale":{"type":"log","domain":[0.00973,104.35],"nice":false},"axis":null},"x2":{"field":"f2"},
"y":{"field":"v","type":"quantitative","scale":{"type":"log","domain":[8.85e-10,0.011128],"nice":false},"axis":null},
"color":{"field":"s","type":"nominal","scale":{"domain":["PU","YU","PS","YS"],"range":["#ff8080","#80a0ff","#ff0000","#0000ff"]},"legend":null}}},
{"data":{"name":"heads"},"mark":{"type":"text","font":"Liberation Sans","fontSize":41,"fontWeight":"bold","align":"center","baseline":"alphabetic","color":"black"},
"encoding":{"x":{"field":"f","type":"quantitative","scale":{"type":"log","domain":[0.00973,104.35],"nice":false},"axis":null},
"y":{"field":"v","type":"quantitative","scale":{"type":"log","domain":[8.85e-10,0.011128],"nice":false},"axis":null},"text":{"field":"t"}}},
{"data":{"name":"rows"},"mark":{"type":"text","font":"Liberation Sans","fontSize":41,"fontWeight":"bold","align":"left","baseline":"alphabetic","color":"black"},
"encoding":{"x":{"field":"f","type":"quantitative","scale":{"type":"log","domain":[0.00973,104.35],"nice":false},"axis":null},
"y":{"field":"v","type":"quantitative","scale":{"type":"log","domain":[8.85e-10,0.011128],"nice":false},"axis":null},"text":{"field":"t"}}},
{"data":{"name":"note"},"mark":{"type":"text","font":"Liberation Sans","fontSize":42,"align":"center","baseline":"alphabetic","color":"black"},
"encoding":{"x":{"field":"f","type":"quantitative","scale":{"type":"log","domain":[0.00973,104.35],"nice":false},"axis":null},
"y":{"field":"v","type":"quantitative","scale":{"type":"log","domain":[8.85e-10,0.011128],"nice":false},"axis":null},"text":{"field":"t"}}},
{"data":{"name":"ring"},"mark":{"type":"point","shape":"M0.725,0C0.725,0.5523,0.4004,1,0,1C-0.4004,1,-0.725,0.5523,-0.725,0C-0.725,-0.5523,-0.4004,-1,0,-1C0.4004,-1,0.725,-0.5523,0.725,0Z","size":49284,"filled":false,"stroke":"#ff0000","strokeWidth":4.5,"opacity":1},
"encoding":{"x":{"field":"f","type":"quantitative","scale":{"type":"log","domain":[0.00973,104.35],"nice":false},"axis":null},
"y":{"field":"v","type":"quantitative","scale":{"type":"log","domain":[8.85e-10,0.011128],"nice":false},"axis":null}}},
{"data":{"name":"pointer"},"mark":{"type":"line","color":"#ff0000","strokeWidth":4.5},
"encoding":{"x":{"field":"f","type":"quantitative","scale":{"type":"log","domain":[0.00973,104.35],"nice":false},"axis":null},
"y":{"field":"v","type":"quantitative","scale":{"type":"log","domain":[8.85e-10,0.011128],"nice":false},"axis":null}}},
{"data":{"name":"calc"},"mark":{"type":"text","font":"Liberation Sans","fontSize":49,"align":"left","baseline":"alphabetic","color":"#ff0000"},
"encoding":{"x":{"field":"f","type":"quantitative","scale":{"type":"log","domain":[0.00973,104.35],"nice":false},"axis":null},
"y":{"field":"v","type":"quantitative","scale":{"type":"log","domain":[8.85e-10,0.011128],"nice":false},"axis":null},"text":{"field":"t"}}}
]
}
